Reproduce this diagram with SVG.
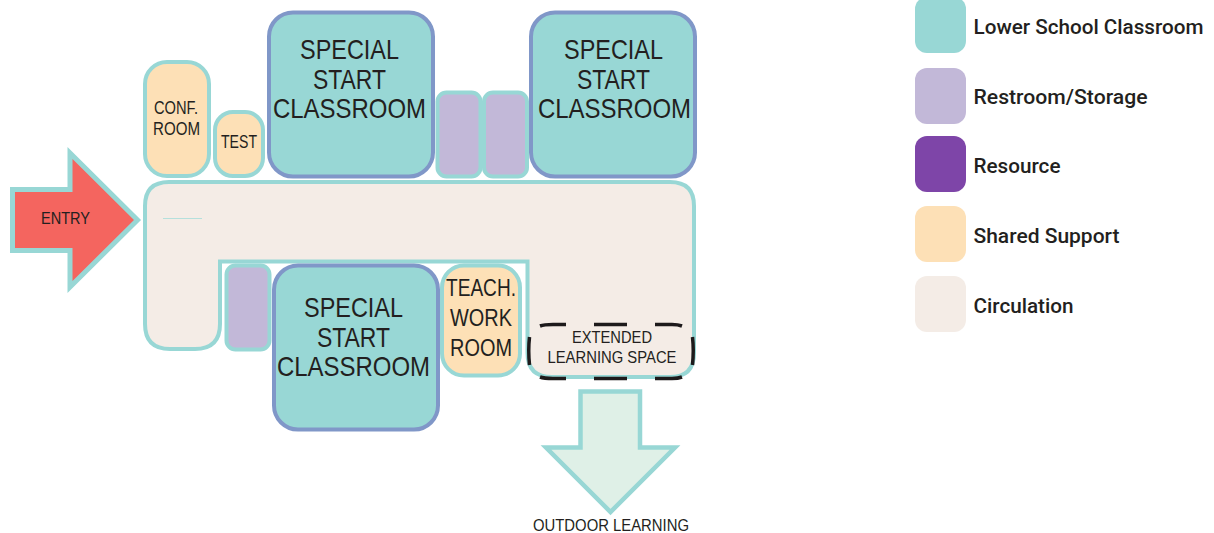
<svg xmlns="http://www.w3.org/2000/svg" width="1214" height="533" viewBox="0 0 1214 533">
<style>
text{font-family:"Liberation Sans",Arial,sans-serif;fill:#231f20;text-anchor:start}
.lg{font-family:"Roboto","Liberation Sans",sans-serif;font-weight:500;font-size:20px}
.cl{fill:#98d7d5;stroke:#8097c8;stroke-width:4}
.sh{fill:#fde0b6;stroke:#98d7d5;stroke-width:4}
.rr{fill:#c2b8d8;stroke:#98d7d5;stroke-width:4}
.big{font-size:28px}.mid{font-size:24px}.sm{font-size:18px}
</style>
<g id="circulation">
<path d="M169,182H670Q694,182 694,206V353Q694,377 670,377H552Q527.500,377 527.500,353V261.500H220V324Q220,349 195,349H170Q145,349 145,324V206Q145,182 169,182Z" fill="#f4ece6" stroke="#98d7d5" stroke-width="4"/>
<path d="M163,218.500H202" stroke="#b5e0dc" stroke-width="1" fill="none"/>
</g>
<g id="entry">
<path d="M12.500,189.500H70V153L137.500,220L70,287V250.500H12.500Z" fill="#f4655f" stroke="#98d7d5" stroke-width="5"/>
<text x="41" y="224" font-size="17" textLength="49" lengthAdjust="spacingAndGlyphs">ENTRY</text>
</g>
<g id="conf-room">
<rect class="sh" x="145" y="62" width="64" height="114" rx="22"/>
<text class="sm" x="154" y="114" textLength="44" lengthAdjust="spacingAndGlyphs">CONF.</text>
<text class="sm" x="153" y="135" textLength="47" lengthAdjust="spacingAndGlyphs">ROOM</text>
</g>
<g id="test">
<rect class="sh" x="215" y="112" width="48" height="64" rx="18"/>
<text class="sm" x="221" y="148" textLength="36" lengthAdjust="spacingAndGlyphs">TEST</text>
</g>
<g id="classroom-1">
<rect class="cl" x="269" y="12.500" width="164" height="164" rx="24"/>
<text class="big" x="300" y="59" textLength="99" lengthAdjust="spacingAndGlyphs">SPECIAL</text>
<text class="big" x="313" y="88.500" textLength="73" lengthAdjust="spacingAndGlyphs">START</text>
<text class="big" x="273" y="118" textLength="153" lengthAdjust="spacingAndGlyphs">CLASSROOM</text>
</g>
<g id="restroom-1"><rect class="rr" x="437.500" y="92.500" width="43" height="84" rx="9"/></g>
<g id="restroom-2"><rect class="rr" x="484" y="92.500" width="43" height="84" rx="9"/></g>
<g id="classroom-2">
<rect class="cl" x="531" y="12.500" width="164" height="164" rx="24"/>
<text class="big" x="564" y="59" textLength="99" lengthAdjust="spacingAndGlyphs">SPECIAL</text>
<text class="big" x="577" y="88.500" textLength="73" lengthAdjust="spacingAndGlyphs">START</text>
<text class="big" x="538" y="118" textLength="153" lengthAdjust="spacingAndGlyphs">CLASSROOM</text>
</g>
<g id="restroom-3"><rect class="rr" x="226.500" y="265.500" width="43" height="84" rx="9"/></g>
<g id="classroom-3">
<rect class="cl" x="274" y="265.500" width="164" height="164" rx="24"/>
<text class="big" x="304" y="317" textLength="99" lengthAdjust="spacingAndGlyphs">SPECIAL</text>
<text class="big" x="317" y="346.500" textLength="73" lengthAdjust="spacingAndGlyphs">START</text>
<text class="big" x="277" y="376" textLength="153" lengthAdjust="spacingAndGlyphs">CLASSROOM</text>
</g>
<g id="teach-work-room">
<rect class="sh" x="442" y="265.500" width="78" height="110" rx="22"/>
<text class="mid" x="446" y="296" textLength="70" lengthAdjust="spacingAndGlyphs">TEACH.</text>
<text class="mid" x="450" y="326" textLength="62" lengthAdjust="spacingAndGlyphs">WORK</text>
<text class="mid" x="450" y="356" textLength="62" lengthAdjust="spacingAndGlyphs">ROOM</text>
</g>
<g id="extended-learning-space">
<path d="M540,326Q544,324.500 553,324.500H566M594,324.500H627M655,324.500H672Q678,324.500 682,326M540,377Q544,378.500 553,378.500H566M594,378.500H627M655,378.500H672Q678,378.500 682,377M529.500,337Q528,350 529.500,365M692.500,337Q694,350 692.500,365" fill="none" stroke="#1d1a1b" stroke-width="3.500"/>
<text x="572" y="343" font-size="17" textLength="80" lengthAdjust="spacingAndGlyphs">EXTENDED</text>
<text x="547.500" y="363" font-size="17" textLength="129" lengthAdjust="spacingAndGlyphs">LEARNING SPACE</text>
</g>
<g id="outdoor-learning">
<path d="M580.500,391.500H640V447.500H675L610.500,512L546,447.500H580.500Z" fill="#dff0e7" stroke="#98d7d5" stroke-width="4.500"/>
<text x="533" y="531" font-size="17" textLength="156" lengthAdjust="spacingAndGlyphs">OUTDOOR LEARNING</text>
</g>
<g id="legend">
<rect x="915" y="-3" width="51" height="56" rx="12" fill="#98d7d5"/>
<text class="lg" x="973.500" y="34" textLength="230" lengthAdjust="spacingAndGlyphs">Lower School Classroom</text>
<rect x="915" y="68" width="51" height="56" rx="12" fill="#c2b8d8"/>
<text class="lg" x="973.500" y="104" textLength="174" lengthAdjust="spacingAndGlyphs">Restroom/Storage</text>
<rect x="915" y="136" width="51" height="56" rx="12" fill="#7e45a8"/>
<text class="lg" x="973.500" y="173" textLength="87" lengthAdjust="spacingAndGlyphs">Resource</text>
<rect x="915" y="206" width="51" height="56" rx="12" fill="#fde0b6"/>
<text class="lg" x="973.500" y="243" textLength="146" lengthAdjust="spacingAndGlyphs">Shared Support</text>
<rect x="915" y="276" width="51" height="56" rx="12" fill="#f4ece6"/>
<text class="lg" x="973.500" y="313" textLength="100" lengthAdjust="spacingAndGlyphs">Circulation</text>
</g>
<g id="connectors"></g>
</svg>
